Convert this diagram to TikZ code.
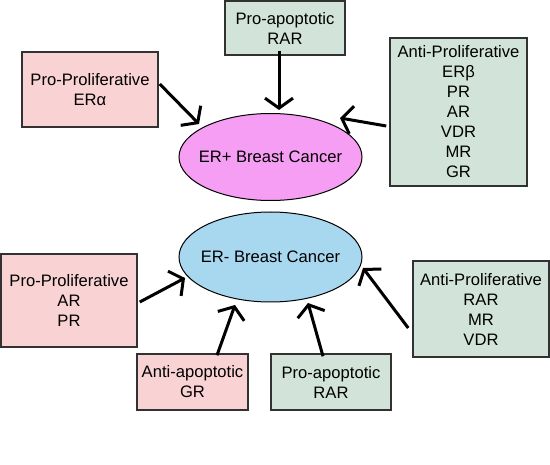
\documentclass[tikz,border=0pt]{standalone}
\usepackage{fontspec}
\setmainfont{Liberation Sans}
\usetikzlibrary{arrows.meta,shapes.geometric}
\definecolor{pinkbox}{RGB}{249,210,212}
\definecolor{greenbox}{RGB}{210,228,218}
\definecolor{magell}{RGB}{246,158,244}
\definecolor{blueell}{RGB}{168,216,240}
\definecolor{boxline}{RGB}{50,50,50}
\tikzset{
  box/.style={draw=boxline, line width=1.5pt, align=center, inner sep=0pt,
    font=\fontsize{16.6}{20}\selectfont},
  pinkb/.style={box, fill=pinkbox},
  greenb/.style={box, fill=greenbox},
  ell/.style={ellipse, draw=black, line width=1pt, inner sep=0pt,
    label={[font=\fontsize{16.6}{20}\selectfont]center:#1}},
  arr/.style={line width=3pt, -{Straight Barb[length=10pt,width=28pt,line width=3pt]}}
}
\begin{document}
\begin{tikzpicture}[x=1pt,y=-1pt]
\useasboundingbox (0,0) rectangle (550,465);
% ellipses
\node[ell={ER+ Breast Cancer}, fill=magell, minimum width=183pt, minimum height=87pt] (erp) at (270.5,157) {};
\node[ell={ER- Breast Cancer}, fill=blueell, minimum width=183pt, minimum height=90pt] (erm) at (270.5,257) {};
% boxes
\node[pinkb, minimum width=136pt, minimum height=75pt] (ppa) at (90,89.5) {Pro-Proliferative\\ERα};
\node[greenb, minimum width=120pt, minimum height=54pt] (rat) at (285,28) {Pro-apoptotic\\RAR};
\node[greenb, minimum width=137pt, minimum height=148pt] (apt) at (458.5,112) {Anti-Proliferative\\ERβ\\PR\\AR\\VDR\\MR\\GR};
\node[pinkb, minimum width=136pt, minimum height=93pt] (ppb) at (69,300.5) {Pro-Proliferative\\AR\\PR};
\node[pinkb, minimum width=111pt, minimum height=56pt] (aag) at (192.5,382) {Anti-apoptotic\\GR};
\node[greenb, minimum width=120pt, minimum height=56pt] (rab) at (331,382) {Pro-apoptotic\\RAR};
\node[greenb, minimum width=136pt, minimum height=96pt] (apb) at (481,309) {Anti-Proliferative\\RAR\\MR\\VDR};
% arrow tips
\coordinate (ta) at (199,124);
\coordinate (tb) at (279,110);
\coordinate (tc) at (340,118);
\coordinate (td) at (185,278);
\coordinate (te) at (235,305);
\coordinate (tf) at (308,303);
\coordinate (tg) at (363,268);
% arrows
\draw[arr] ([xshift=1pt,yshift=5.5pt]ppa.east) -- (ta);
\draw[arr] ([xshift=-6pt,yshift=5pt]rat.south) -- (tb);
\draw[arr] ([xshift=-3pt,yshift=-14pt]apt.west) -- (tc);
\draw[arr] ([xshift=2pt,yshift=-1.5pt]ppb.east) -- (td);
\draw[arr] ([xshift=24.5pt,yshift=-2pt]aag.north) -- (te);
\draw[arr] ([xshift=-8pt,yshift=-3pt]rab.north) -- (tf);
\draw[arr] ([xshift=-4pt,yshift=-19pt]apb.west) -- (tg);
\end{tikzpicture}
\end{document}
